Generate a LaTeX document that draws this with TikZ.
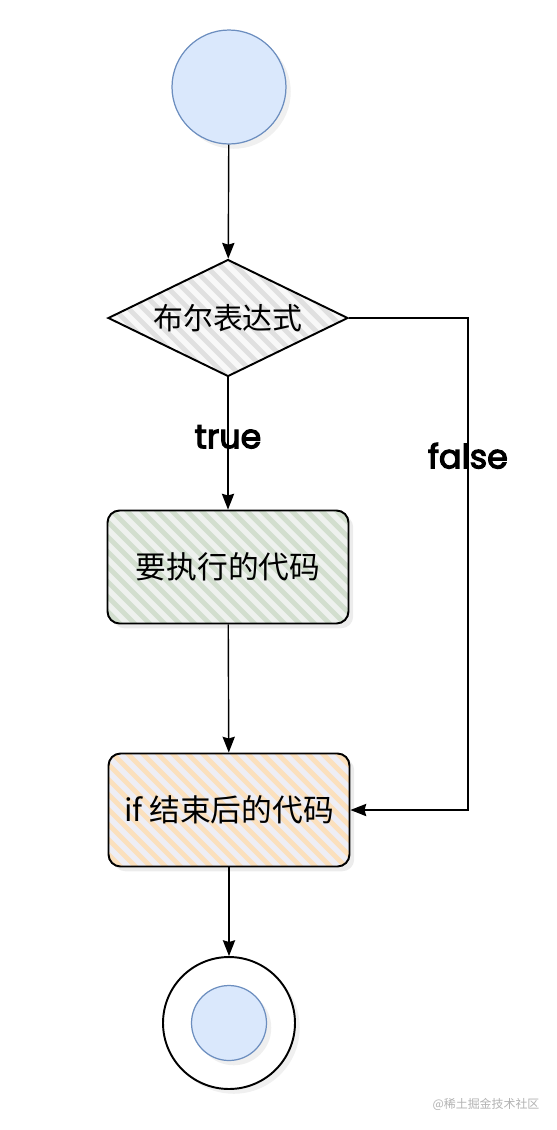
\documentclass[tikz,border=0pt]{standalone}
\usepackage{fontspec}
\setmainfont{Noto Sans CJK SC}
\newfontfamily\handfont[FakeBold=3.5]{Poppins}
\usetikzlibrary{shapes.geometric,arrows.meta,shadows}

\definecolor{dotfill}{HTML}{DAE8FC}
\definecolor{dotline}{HTML}{6C8EBF}
\definecolor{condfill}{HTML}{F8F8F8}
\definecolor{condhatch}{HTML}{E0E0E0}
\definecolor{bodyfill}{HTML}{EEF1EE}
\definecolor{bodyhatch}{HTML}{D2DECE}
\definecolor{afterfill}{HTML}{EEEEF5}
\definecolor{afterhatch}{HTML}{FBE0BD}

% hand drawn hatching, clipped to the node
\newcommand{\hatchwith}[1]{%
  \foreach \k in {-16,...,16}
    \draw[#1, line width=2.8pt]
      ([shift={(\k*0.3cm-5cm,5cm)}]path picture bounding box.center) -- ++(10cm,-10cm);}

\tikzset{
  dot/.style={circle, minimum size=2.28cm, inner sep=0pt, fill=dotfill,
    draw=dotline, line width=0.7pt, drop shadow={opacity=0.12}},
  condbox/.style={diamond, aspect=2.05, minimum width=4.8cm, minimum height=2.34cm,
    inner sep=0pt, fill=condfill, draw, line width=1.1pt,
    path picture={\hatchwith{condhatch}}, font=\fontsize{17}{20}\selectfont},
  codebox/.style={rectangle, rounded corners=0.24cm, minimum width=4.82cm,
    minimum height=2.26cm, draw, line width=1.1pt,
    font=\fontsize{17.5}{20}\selectfont, drop shadow={opacity=0.15}},
  flow/.style={-{Stealth[length=9pt, width=7pt, inset=1pt]}, line width=0.8pt},
  edgetext/.style={font=\handfont\fontsize{19}{23}\selectfont}
}

\begin{document}
\begin{tikzpicture}[x=0.02cm, y=-0.02cm]

  \useasboundingbox (0,0) rectangle (556,1130);

  % -- Start --
  \node[dot] (start) at (229,87) {};

  % -- Condition --
  \node[condbox] (cond) at (228,318) {布尔表达式};

  % -- Branch body --
  \node[codebox, fill=bodyfill, path picture={\hatchwith{bodyhatch}}] (body) at (228,567) {要执行的代码};

  % -- After if --
  \node[codebox, fill=afterfill, path picture={\hatchwith{afterhatch}}] (after) at (229,810) {if 结束后的代码};

  % -- End --
  \node[circle, minimum size=2.64cm, inner sep=0pt, fill=white, draw,
    line width=1.1pt, drop shadow={opacity=0.12}] (stop) at (229,1023) {};
  \node[dot, minimum size=1.5cm, drop shadow={opacity=0}] (stopdot) at (stop) {};

  % -- Connectors --
  \draw[flow] (start) -- (cond);
  \draw[flow] (cond) -- node[edgetext, pos=0.45] {true} (body);
  \draw[flow] (body) -- (after);
  \draw[flow] (after) -- (stop);
  \draw[flow] (cond.east) -- ++(119,0) |- node[pos=0.14, edgetext] {false} (after.east);

  % -- Watermark --
  \node[font=\fontsize{6.8}{8}\selectfont, text=gray!60] (mark) at (486,1104) {@稀土掘金技术社区};

\end{tikzpicture}
\end{document}
